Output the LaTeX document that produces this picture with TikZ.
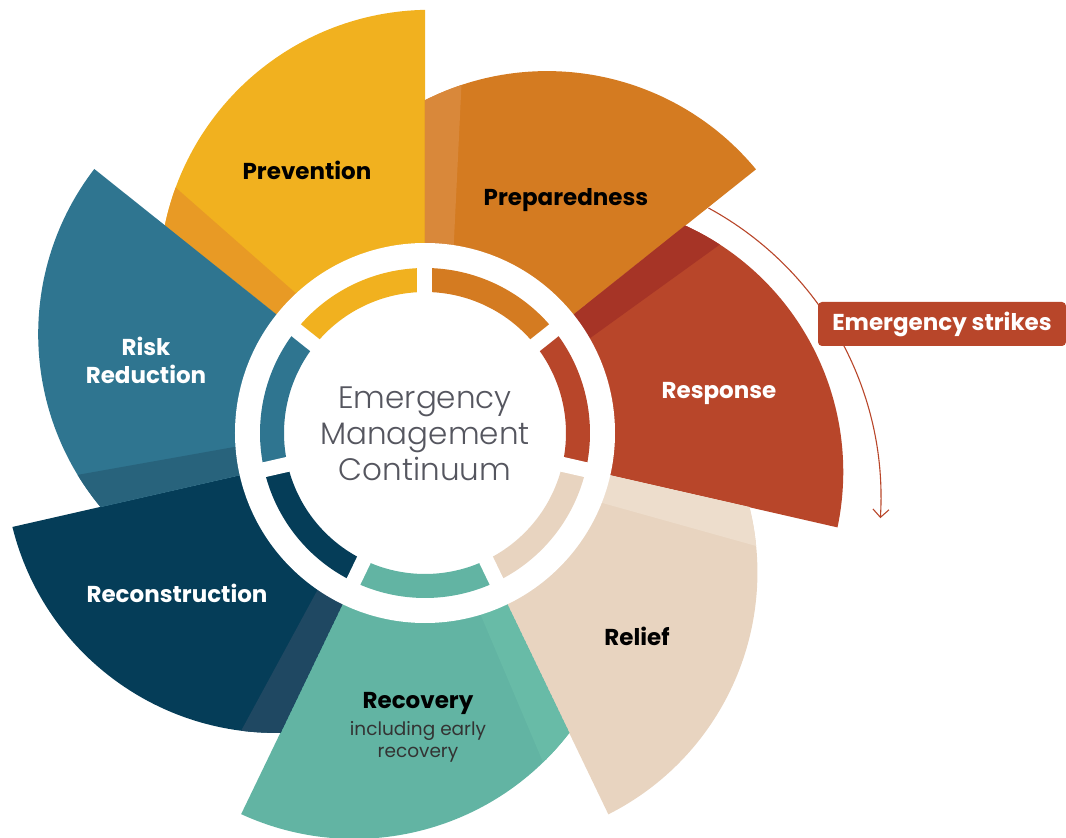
\documentclass[tikz,border=0pt]{standalone}
\usepackage{fontspec}
\setmainfont{Poppins}
\newfontfamily\lightfont{Poppins Light}
\usetikzlibrary{calc,arrows.meta}
\definecolor{cPrev}{HTML}{F1B11F}
\definecolor{sPrev}{HTML}{E89A25}
\definecolor{cPrep}{HTML}{D47B21}
\definecolor{sPrep}{HTML}{D9883A}
\definecolor{cResp}{HTML}{B8462A}
\definecolor{sResp}{HTML}{A63426}
\definecolor{cReli}{HTML}{E8D4C0}
\definecolor{sReli}{HTML}{EDDDCC}
\definecolor{cReco}{HTML}{62B4A3}
\definecolor{sReco}{HTML}{68BBA7}
\definecolor{cRecn}{HTML}{053D58}
\definecolor{sRecn}{HTML}{1F4862}
\definecolor{cRisk}{HTML}{2F7590}
\definecolor{sRisk}{HTML}{28637C}
\definecolor{ctext}{HTML}{55565F}
\tikzset{
  bladelabel/.style={font=\bfseries\fontsize{23}{28}\selectfont, align=center},
  sublabel/.style={font=\fontsize{18.5}{22}\selectfont, text=black!80},
  centertext/.style={font=\lightfont\fontsize{31}{36}\selectfont, text=ctext, align=center},
  strikebox/.style={fill=cResp, text=white, rounded corners=4pt, font=\bfseries\fontsize{23}{26}\selectfont, minimum width=248pt, minimum height=44pt, inner sep=0pt},
  strikeline/.style={draw=cResp, line width=1.1pt, -{Straight Barb[length=8pt,width=16pt,line width=1.1pt]}}
}
\begin{document}
\begin{tikzpicture}[x=1pt,y=1pt]
\useasboundingbox (-425,-405) rectangle (641,433);
% blades
\foreach \a/\c/\s in {141.43/cPrev/sPrev, 90/cPrep/sPrep, 38.57/cResp/sResp, -12.86/cReli/sReli, -64.29/cReco/sReco, -115.71/cRecn/sRecn, -167.14/cRisk/sRisk}{
  \pgfmathsetmacro\sa{\a+26.8}
  \pgfmathsetmacro\ea{\a-50.4}
  \pgfmathsetmacro\ba{\a-8.7}
  \pgfmathsetmacro\ta{\a-6}
  \begin{scope}
    \path[clip] (0,0) -- (\a:332.8) arc[start angle=\sa, end angle=\ea, radius=271] -- cycle;
    \fill[\c] (-500,-500) rectangle (700,500);
    \fill[\s] (\a:150) -- (\a:520) -- ($(\ba:190)!2!(\ta:348)$) -- ($(\ba:190)!-0.3!(\ta:348)$) -- cycle;
  \end{scope}
}
% white disc
\fill[white] (0,0) circle[radius=190];
% ring segments
\foreach \a/\c in {141.43/cPrev, 90/cPrep, 38.57/cResp, -12.86/cReli, -64.29/cReco, -115.71/cRecn, -167.14/cRisk}{
  \pgfmathsetmacro\ea{\a-51.43}
  \draw[\c, line width=24pt] (\a:153) arc[start angle=\a, end angle=\ea, radius=153];
}
\foreach \a in {141.43, 90, 38.57, -12.86, -64.29, -115.71, -167.14}{
  \draw[white, line width=15pt] (\a:125) -- (\a:180);
}
% emergency strikes arrow
\coordinate (esA) at ($(126,-65)+(61.5:330)$);
\draw[strikeline] (esA) arc[start angle=61.5, end angle=-3.5, radius=330];
\node[strikebox] (es) at (517,109) {Emergency strikes};
% labels
\node[bladelabel] (prev) at (-118,263) {Prevention};
\node[bladelabel] (prep) at (141,233) {Preparedness};
\node[bladelabel, text=white] (resp) at (294,40) {Response};
\node[bladelabel] (reli) at (212,-203) {Relief};
\node[bladelabel] (reco) at (-7,-270) {Recovery};
\node[sublabel, align=center] (recosub) at (-7,-309) {including early\\recovery};
\node[bladelabel, text=white] (recn) at (-248,-160) {Reconstruction};
\node[bladelabel, text=white] (risk) at (-279,73) {Risk\\Reduction};
\node[centertext] (ctr) at (0,-1) {Emergency\\Management\\Continuum};
\end{tikzpicture}
\end{document}
